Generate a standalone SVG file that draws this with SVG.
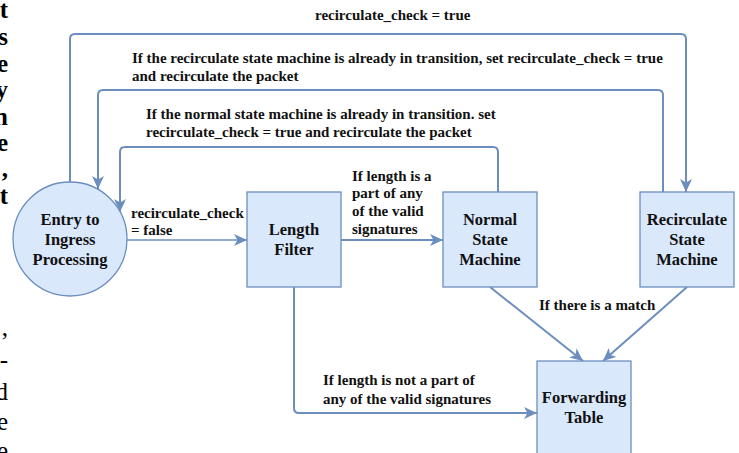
<svg xmlns="http://www.w3.org/2000/svg" width="739" height="453" viewBox="0 0 739 453">
<defs>
<style>
.node{fill:#dae8fc;stroke:#6c8ebf;stroke-width:1.3}
.edge{fill:none;stroke:#6c8ebf;stroke-width:2}
.thin{stroke-width:1.3}
.lbl{font-weight:bold;font-size:15px;fill:#111}
.nl{font-weight:bold;font-size:16.5px;fill:#111;text-anchor:middle}
.frag{font-size:25px;fill:#000;text-anchor:end}
.b{font-weight:bold}
</style>
<marker id="arr" markerUnits="userSpaceOnUse" markerWidth="14" markerHeight="12" viewBox="0 0 14 12" refX="13" refY="6" orient="auto">
<path d="M0,0 L13,6 L0,12 L3.5,6 z" fill="#6c8ebf"/>
</marker>
</defs>
<rect width="739" height="453" fill="#ffffff"/>

<g id="page-fragments" font-family="Liberation Serif, serif">
<text class="frag b" x="8" y="18">t</text>
<text class="frag b" x="8" y="45">s</text>
<text class="frag b" x="8" y="72">e</text>
<text class="frag b" x="8" y="98">y</text>
<text class="frag b" x="8" y="125">n</text>
<text class="frag b" x="8" y="151">e</text>
<text class="frag b" x="8" y="177">,</text>
<text class="frag b" x="8" y="204">t</text>
<text class="frag" x="8" y="336">,</text>
<text class="frag" x="8" y="368">-</text>
<text class="frag" x="8" y="400">d</text>
<text class="frag" x="8" y="430">e</text>
<text class="frag" x="8" y="459">e</text>
</g>

<g id="connectors">
<path class="edge" d="M70,182 V39 Q70,34 75,34 H681 Q686,34 686,39 V192" marker-end="url(#arr)"/>
<path class="edge" d="M663,192 V95 Q663,90 658,90 H103 Q98,90 98,95 V189" marker-end="url(#arr)"/>
<path class="edge" d="M498,192 V152 Q498,147 493,147 H125 Q120,147 120,152 V212" marker-end="url(#arr)"/>
<path class="edge thin" d="M127,240 H247" marker-end="url(#arr)"/>
<path class="edge" d="M341,240 H443" marker-end="url(#arr)"/>
<path class="edge" d="M490,287 L583,361" marker-end="url(#arr)"/>
<path class="edge" d="M687,287 L603,361" marker-end="url(#arr)"/>
<path class="edge" d="M294,287 V408 Q294,413 299,413 H537" marker-end="url(#arr)"/>
</g>

<g id="edge-labels" font-family="Liberation Serif, serif">
<text class="lbl" x="315" y="20">recirculate_check = true</text>
<text class="lbl" x="132" y="63">If the recirculate state machine is already in transition, set recirculate_check = true</text>
<text class="lbl" x="132" y="81">and recirculate the packet</text>
<text class="lbl" x="146" y="119">If the normal state machine is already in transition. set</text>
<text class="lbl" x="146" y="137">recirculate_check = true and recirculate the packet</text>
<text class="lbl" x="131" y="218">recirculate_check</text>
<text class="lbl" x="131" y="235">= false</text>
<text class="lbl" x="352" y="181">If length is a</text>
<text class="lbl" x="352" y="198">part of any</text>
<text class="lbl" x="352" y="216">of the valid</text>
<text class="lbl" x="352" y="234">signatures</text>
<text class="lbl" x="539" y="310">If there is a match</text>
<text class="lbl" x="323" y="385">If length is not a part of</text>
<text class="lbl" x="323" y="404">any of the valid signatures</text>
</g>

<g id="entry" font-family="Liberation Serif, serif">
<circle class="node" cx="70" cy="239" r="57"/>
<text class="nl" x="70" y="225">Entry to</text>
<text class="nl" x="70" y="245">Ingress</text>
<text class="nl" x="70" y="265">Processing</text>
</g>
<g id="length-filter" font-family="Liberation Serif, serif">
<rect class="node" x="247" y="192" width="94" height="95"/>
<text class="nl" x="294" y="235">Length</text>
<text class="nl" x="294" y="255">Filter</text>
</g>
<g id="normal-sm" font-family="Liberation Serif, serif">
<rect class="node" x="443" y="192" width="94" height="95"/>
<text class="nl" x="490" y="225">Normal</text>
<text class="nl" x="490" y="245">State</text>
<text class="nl" x="490" y="265">Machine</text>
</g>
<g id="recirc-sm" font-family="Liberation Serif, serif">
<rect class="node" x="640" y="192" width="94" height="95"/>
<text class="nl" x="687" y="225">Recirculate</text>
<text class="nl" x="687" y="245">State</text>
<text class="nl" x="687" y="265">Machine</text>
</g>
<g id="forwarding" font-family="Liberation Serif, serif">
<rect class="node" x="537" y="361" width="94" height="97"/>
<text class="nl" x="584" y="403">Forwarding</text>
<text class="nl" x="584" y="423">Table</text>
</g>
</svg>
